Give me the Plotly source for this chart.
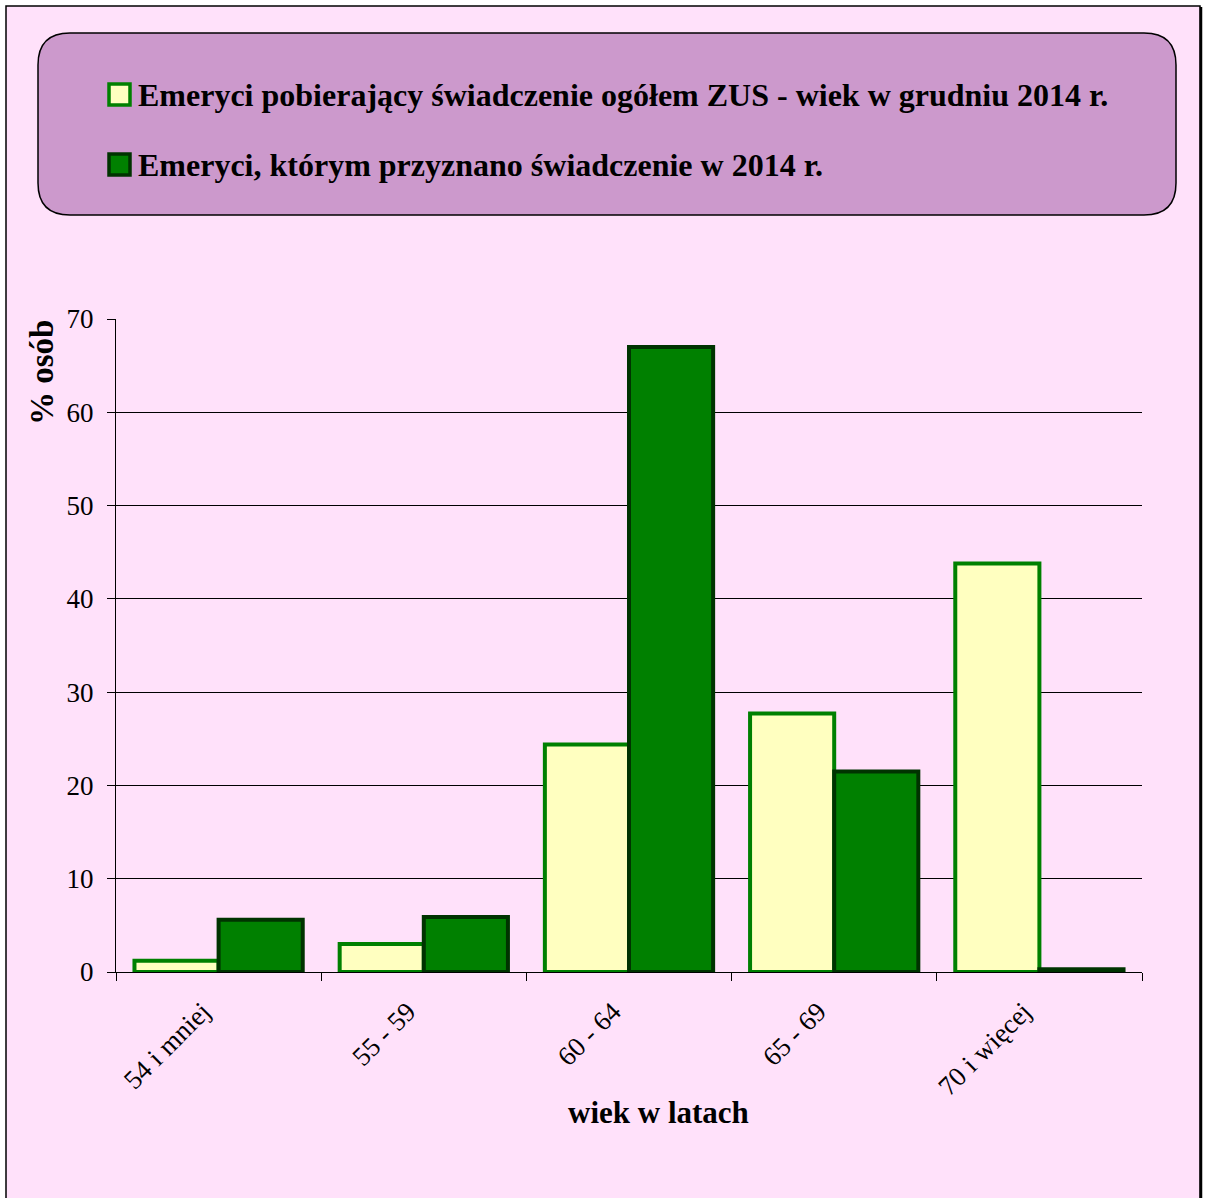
import plotly.graph_objects as go

categories = ["54 i mniej", "55 - 59", "60 - 64", "65 - 69", "70 i więcej"]
ogolem = [1.2, 3.0, 24.4, 27.7, 43.8]
przyznane = [5.6, 5.9, 67.0, 21.5, 0.3]
name_ogolem = "Emeryci pobierający świadczenie ogółem ZUS - wiek w grudniu 2014 r."
name_przyznane = "Emeryci, którym przyznano świadczenie w 2014 r."
x_title = "wiek w latach"
y_title = "% osób"
y_ticks = [0, 10, 20, 30, 40, 50, 60, 70]

W, H = 1206, 1198
L, R, T, B = 116, 1142, 319, 972
pw, ph = R - L, B - T

def px(x):
    return (x - L) / pw

def py(y):
    return (B - y) / ph

FONT = "Liberation Serif, Times New Roman, serif"
LIGHT_FILL = "#FFFFC0"
GREEN = "#008000"
DARK = "#003300"

fig = go.Figure()
fig.add_trace(go.Bar(
    x=categories, y=ogolem, name=name_ogolem, showlegend=False,
    marker=dict(color=LIGHT_FILL, line=dict(color=GREEN, width=4)),
))
fig.add_trace(go.Bar(
    x=categories, y=przyznane, name=name_przyznane, showlegend=False,
    marker=dict(color=GREEN, line=dict(color=DARK, width=4)),
))

# outer frame
shapes = [
    dict(type="rect", xref="paper", yref="paper", layer="below",
         x0=px(6), x1=px(1200), y0=py(1210), y1=py(6),
         fillcolor="#FFE1FA", line=dict(color="#000000", width=1.5)),
    dict(type="line", xref="paper", yref="paper",
         x0=px(1201), x1=px(1201), y0=py(1210), y1=py(7),
         line=dict(color="#000000", width=2.5)),
]

# rounded legend box
x0, x1, y0, y1 = 38, 1176, 33, 215
r = 32
path = (
    f"M {px(x0 + r)} {py(y0)} L {px(x1 - r)} {py(y0)} "
    f"Q {px(x1)} {py(y0)} {px(x1)} {py(y0 + r)} "
    f"L {px(x1)} {py(y1 - r)} "
    f"Q {px(x1)} {py(y1)} {px(x1 - r)} {py(y1)} "
    f"L {px(x0 + r)} {py(y1)} "
    f"Q {px(x0)} {py(y1)} {px(x0)} {py(y1 - r)} "
    f"L {px(x0)} {py(y0 + r)} "
    f"Q {px(x0)} {py(y0)} {px(x0 + r)} {py(y0)} Z"
)
shapes.append(dict(type="path", xref="paper", yref="paper", path=path,
                   fillcolor="#CC99CC", line=dict(color="#000000", width=1.5),
                   layer="below"))

# legend entries (symbol + text)
legend_rows = [(95, name_ogolem, LIGHT_FILL, GREEN), (165, name_przyznane, GREEN, DARK)]
annotations = []
for yc, label, fill, edge in legend_rows:
    shapes.append(dict(type="rect", xref="paper", yref="paper",
                       x0=px(109), x1=px(130), y0=py(yc + 10), y1=py(yc - 11),
                       fillcolor=fill, line=dict(color=edge, width=3.5)))
    annotations.append(dict(xref="paper", yref="paper", x=px(136), y=py(yc),
                            xanchor="left", yanchor="middle", showarrow=False,
                            text=f"<b>{label}</b>",
                            font=dict(family=FONT, size=32, color="#000000")))

# axis titles positioned as in the reference
annotations.append(dict(xref="paper", yref="paper", x=px(658), y=py(1112),
                        xanchor="center", yanchor="middle", showarrow=False,
                        text=f"<b>{x_title}</b>",
                        font=dict(family=FONT, size=31, color="#000000")))
annotations.append(dict(xref="paper", yref="paper", x=px(42), y=py(373),
                        xanchor="center", yanchor="middle", showarrow=False,
                        textangle=-90, text=f"<b>{y_title}</b>",
                        font=dict(family=FONT, size=33, color="#000000")))

fig.update_layout(
    width=W, height=H,
    margin=dict(l=L, r=W - R, t=T, b=H - B),
    paper_bgcolor="#FFFFFF",
    plot_bgcolor="#FFFFC0",
    barmode="group", bargap=0.18, bargroupgap=0,
    font=dict(family=FONT, color="#000000", size=27),
    shapes=shapes,
    annotations=annotations,
    showlegend=False,
    xaxis=dict(
        showline=True, linecolor="#000000", linewidth=1,
        ticks="outside", ticklen=8, tickcolor="#000000",
        tickson="boundaries", tickangle=-45,
        ticklabelshift=-16, ticklabelstandoff=12,
        tickfont=dict(family=FONT, size=27),
        showgrid=False,
    ),
    yaxis=dict(
        range=[0, 70], tickvals=y_ticks, ticktext=[str(v) for v in y_ticks],
        showline=True, linecolor="#000000", linewidth=1,
        ticks="outside", ticklen=8, tickcolor="#000000",
        ticklabelstandoff=8,
        tickfont=dict(family=FONT, size=27),
        showgrid=True, gridcolor="#000000", gridwidth=1,
        zeroline=False,
    ),
)

fig.write_html("out.html", config={"displayModeBar": False},
               post_script="document.body.style.margin='0';")
